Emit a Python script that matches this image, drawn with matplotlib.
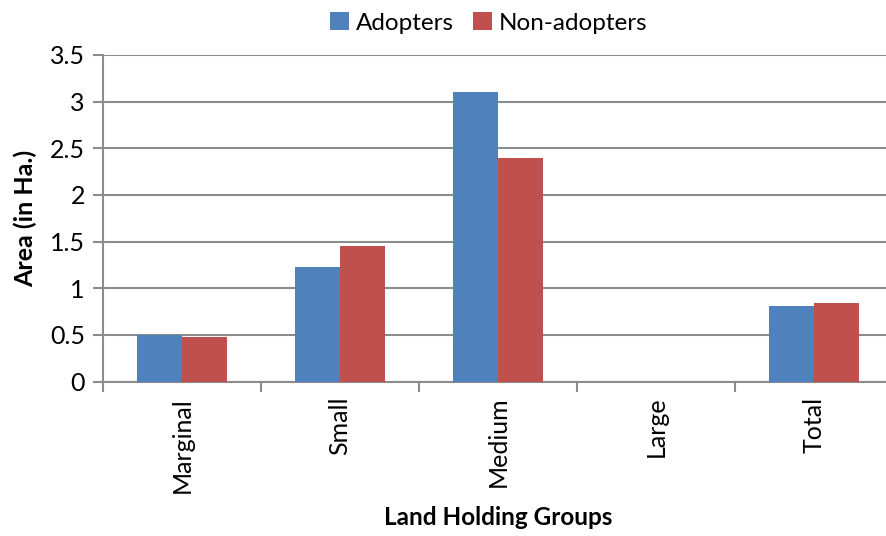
import numpy as np
import matplotlib
matplotlib.use('Agg')
import matplotlib.pyplot as plt

categories = ['Marginal', 'Small', 'Medium', 'Large', 'Total']
adopters = [0.50, 1.23, 3.10, 0.0, 0.81]
non_adopters = [0.48, 1.45, 2.40, 0.0, 0.84]
y_ticks = [0, 0.5, 1, 1.5, 2, 2.5, 3, 3.5]
y_tick_labels = ['0', '0.5', '1', '1.5', '2', '2.5', '3', '3.5']

plt.rcParams['font.family'] = ['Lato', 'DejaVu Sans']

fig = plt.figure(figsize=(8.86, 5.36), dpi=100)
ax = fig.add_axes([103 / 886, 154.5 / 536, 790 / 886, 326.5 / 536])

x = np.arange(len(categories))
w = 0.285
ax.bar(x - w / 2, adopters, w, color='#4f81bd', label='Adopters', zorder=3)
ax.bar(x + w / 2, non_adopters, w, color='#c0504d', label='Non-adopters', zorder=3)

ax.set_xlim(-0.5, len(categories) - 0.5)
ax.set_ylim(0, 3.5)
ax.set_yticks(y_ticks)
ax.set_yticklabels(y_tick_labels)
ax.yaxis.grid(True, color='#8c8c8c', linewidth=1.5, zorder=0)

# category ticks sit on the boundaries, labels in the middle
ax.set_xticks(np.arange(len(categories) + 1) - 0.5)
ax.set_xticklabels([])
ax.set_xticks(x, minor=True)
ax.set_xticklabels(categories, minor=True, rotation=90, fontsize=18)
ax.tick_params(axis='x', which='minor', length=0, pad=11)
ax.tick_params(axis='x', which='major', length=7, width=1.5, color='#8c8c8c')
ax.tick_params(axis='y', length=7, width=1.5, color='#8c8c8c', labelsize=18, pad=6)

for side in ['top', 'right']:
    ax.spines[side].set_visible(False)
for side in ['left', 'bottom']:
    ax.spines[side].set_color('#8c8c8c')
    ax.spines[side].set_linewidth(1.5)

ax.set_ylabel('Area (in Ha.)', fontsize=18, fontweight='bold', labelpad=9)
ax.set_xlabel('Land Holding Groups', fontsize=17.5, fontweight='bold', labelpad=10)

fig.legend(loc='upper center', bbox_to_anchor=(489 / 886, 1.018), ncol=2, frameon=False,
           fontsize=17.5, handlelength=0.75, handleheight=0.75, columnspacing=0.8,
           handletextpad=0.3)

fig.savefig('out.png', dpi=100)
